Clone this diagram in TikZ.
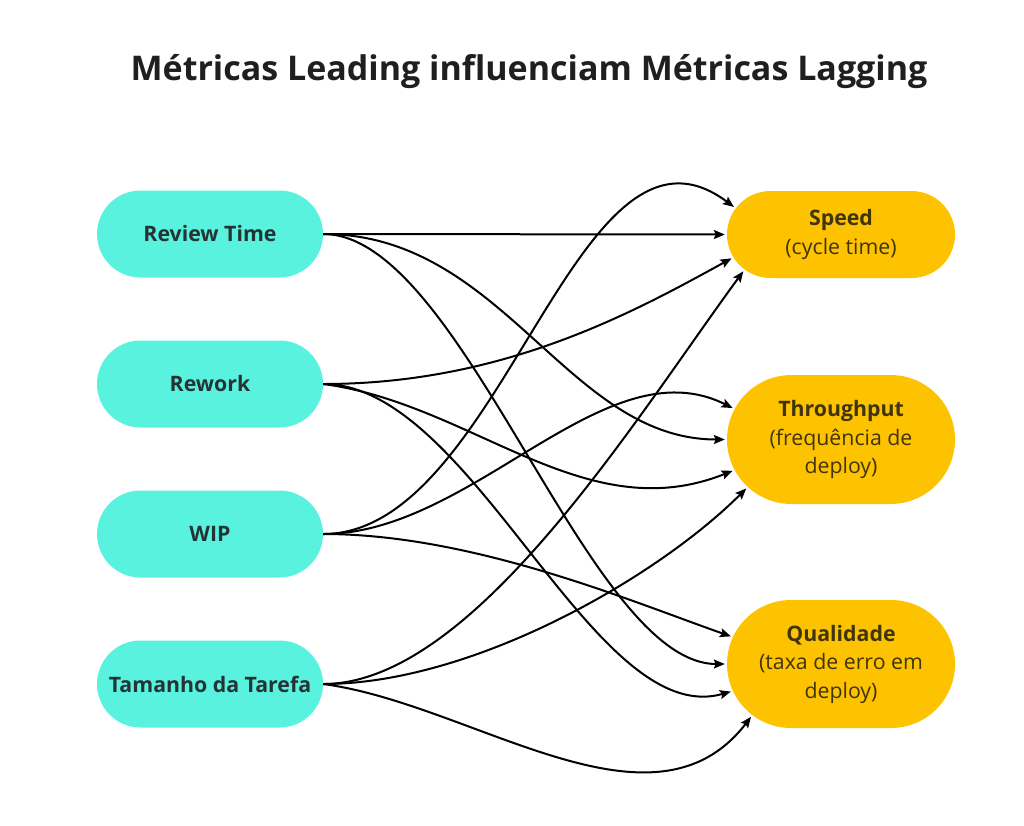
\documentclass[tikz,border=0pt]{standalone}
\usepackage{fontspec}
\setmainfont{Open Sans}
\usetikzlibrary{shapes.misc,arrows.meta}

\definecolor{leadfill}{RGB}{88,242,223}
\definecolor{lagfill}{RGB}{253,195,0}
\definecolor{leadtext}{RGB}{36,52,52}
\definecolor{lagtext}{RGB}{64,52,10}

\tikzset{
  leading/.style={rounded rectangle, fill=leadfill, text=leadtext,
    minimum width=136pt, minimum height=87pt, inner xsep=-45pt,
    font=\fontsize{21.3}{28.5}\selectfont\bfseries},
  lagging/.style={rounded rectangle, fill=lagfill, text=lagtext,
    minimum width=138pt, inner xsep=-45pt, align=center,
    font=\fontsize{21.3}{28.5}\selectfont},
  link/.style={line width=2pt, shorten >=2pt,
    -{Stealth[length=11pt,width=9pt,inset=2pt]}}
}

\begin{document}
\begin{tikzpicture}[x=1pt,y=-1pt]

% Canvas
\useasboundingbox (0,0) rectangle (1024,825);

% Title
\node[font=\fontsize{34}{40}\selectfont\bfseries, text=black!88] (title)
  at (529,72) {Métricas Leading influenciam Métricas Lagging};

% Leading metrics
\node[leading] (review) at (210,234) {Review Time};
\node[leading] (rework) at (210,384) {Rework};
\node[leading] (wip)    at (210,534) {WIP};
\node[leading] (task)   at (210,684) {Tamanho da Tarefa};

% Lagging metrics
\node[lagging, minimum height=87pt]  (speed) at (841,234.5)
  {\textbf{Speed}\\(cycle time)};
\node[lagging, minimum height=129pt] (thru)  at (841,439.5)
  {\textbf{Throughput}\\(frequência de\\deploy)};
\node[lagging, minimum height=128pt] (qual)  at (841,664)
  {\textbf{Qualidade}\\(taxa de erro em\\deploy)};

% Review Time
\draw[link] (review.east) -- (speed.west);
\draw[link] (review.east) .. controls +(180,0) and +(-160,0) .. (thru.west);
\draw[link] (review.east) .. controls +(140,0) and +(-140,0) .. (qual.west);

% Rework
\draw[link] (rework.east) .. controls +(180,0) and +(-100,55) .. (speed.192);
\draw[link] (rework.east) .. controls +(150,20) and +(-150,60) .. (thru.196);
\draw[link] (rework.east) .. controls +(150,0) and +(-140,40) .. (qual.194);

% WIP
\draw[link] (wip.east) .. controls +(180,0) and +(-160,-120) .. (speed.166);
\draw[link] (wip.east) .. controls +(150,0) and +(-130,-65) .. (thru.164);
\draw[link] (wip.east) .. controls +(150,0) and +(-100,-35) .. (qual.166);

% Tamanho da Tarefa
\draw[link] (task.east) .. controls +(150,0) and +(-110,150) .. (speed.200);
\draw[link] (task.east) .. controls +(150,0) and +(-90,90) .. (thru.207);
\draw[link] (task.east) .. controls +(150,20) and +(-100,130) .. (qual.210);

\end{tikzpicture}
\end{document}
